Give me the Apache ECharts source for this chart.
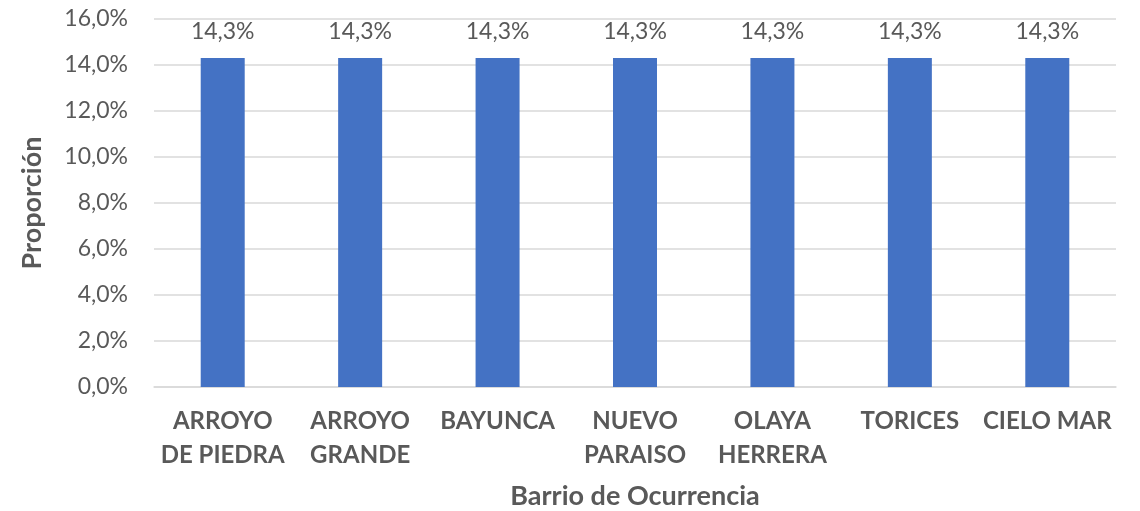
<!DOCTYPE html>
<html>
<head>
<meta charset="utf-8">
<script src="https://cdn.jsdelivr.net/npm/echarts@6/dist/echarts.min.js"></script>
<style>
  html, body { margin: 0; padding: 0; background: #fff; }
  #chart { width: 1140px; height: 511px; }
</style>
</head>
<body>
<div id="chart"></div>
<script>
// 数据
const categories = ['ARROYO\nDE PIEDRA', 'ARROYO\nGRANDE', 'BAYUNCA', 'NUEVO\nPARAISO', 'OLAYA\nHERRERA', 'TORICES', 'CIELO MAR'];
const proportions = [14.3, 14.3, 14.3, 14.3, 14.3, 14.3, 14.3];
const yTicks = { min: 0, max: 16, interval: 2 };

const fmt = v => v.toFixed(1).replace('.', ',') + '%';
const textColor = '#595959';
const font = 'Lato, "Open Sans", sans-serif';

const chart = echarts.init(document.getElementById('chart'));
chart.setOption({
  animation: false,
  grid: { left: 154, right: 24, top: 19, bottom: 124, containLabel: false, outerBoundsMode: 'none' },
  xAxis: {
    type: 'category',
    data: categories,
    name: 'Barrio de Ocurrencia',
    nameLocation: 'middle',
    nameGap: 96,
    nameTextStyle: { color: textColor, fontFamily: font, fontSize: 27, fontWeight: 'bold' },
    axisLine: { lineStyle: { color: '#d9d9d9', width: 1.5 } },
    axisTick: { show: false },
    axisLabel: {
      color: textColor, fontFamily: font, fontSize: 24, fontWeight: 'bold',
      lineHeight: 34, margin: 17, interval: 0
    }
  },
  yAxis: {
    type: 'value',
    min: yTicks.min, max: yTicks.max, interval: yTicks.interval,
    name: 'Proporción',
    nameLocation: 'middle',
    nameGap: 108,
    nameTextStyle: { color: textColor, fontFamily: font, fontSize: 27, fontWeight: 'bold' },
    axisLine: { show: false },
    axisTick: { show: false },
    splitLine: { lineStyle: { color: '#d9d9d9', width: 1.5 } },
    axisLabel: { color: textColor, fontFamily: font, fontSize: 23, margin: 26, formatter: fmt }
  },
  series: [{
    type: 'bar',
    data: proportions,
    barWidth: 44,
    itemStyle: { color: '#4472C4' },
    label: {
      show: true, position: 'top', distance: 15,
      color: textColor, fontFamily: font, fontSize: 23,
      formatter: p => fmt(p.value)
    }
  }]
});
</script>
</body>
</html>
